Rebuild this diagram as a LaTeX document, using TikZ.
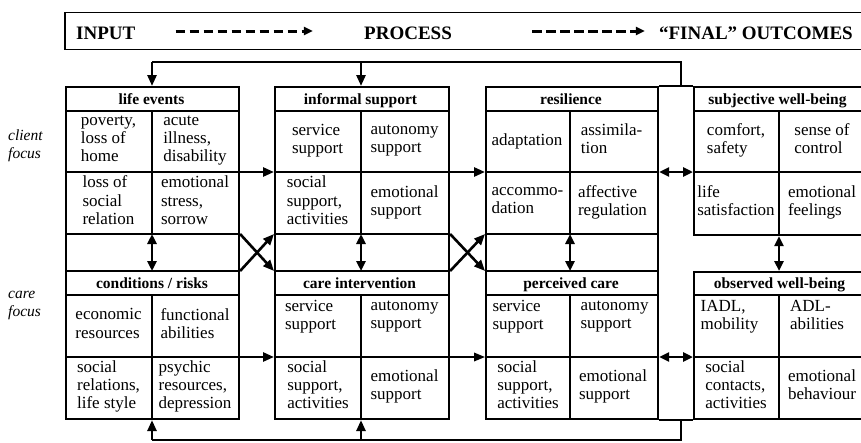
\documentclass[tikz,border=0pt]{standalone}
\usepackage{fontspec}
\setmainfont{Liberation Serif}
\usetikzlibrary{arrows.meta}
\begin{document}
\begin{tikzpicture}[x=1pt,y=-1pt,
  framebox/.style={draw,line width=2.1pt,inner sep=0pt,anchor=north west},
  gridline/.style={line width=1.3pt},
  fbline/.style={line width=2.5pt},
  flow/.style={line width=2.6pt,-{Triangle[length=11pt,width=9pt]}},
  thinflow/.style={line width=1.8pt,-{Triangle[length=11pt,width=8.5pt]}},
  both/.style={line width=2.6pt,{Triangle[length=10pt,width=9pt]}-{Triangle[length=10pt,width=9pt]}},
  legendflow/.style={line width=3pt,dash pattern=on 9.5pt off 4.5pt,-{Triangle[length=9pt,width=8pt]}},
  cell/.style={align=left,inner sep=0pt,font=\fontsize{17}{18.3}\selectfont,
    execute at begin node=\strut,execute at end node=\strut},
  title/.style={inner sep=0pt,anchor=base,font=\fontsize{15.5}{18}\selectfont\bfseries},
  side/.style={align=left,inner sep=0pt,anchor=west,font=\fontsize{15.5}{18}\selectfont\itshape,
    execute at begin node=\strut,execute at end node=\strut},
  head/.style={inner sep=0pt,font=\fontsize{19}{22}\selectfont\bfseries}
]
\useasboundingbox (0,0) rectangle (861,442);
\clip (0,0) rectangle (861,442);

% ---- legend bar ----
\draw[line width=1.2pt] (65,12.3) rectangle (868,49.3);
\node[head,anchor=base west] (in) at (76,39) {INPUT};
\node[head,anchor=base] (pr) at (408,39) {PROCESS};
\node[head,anchor=base east] (fo) at (853,39) {“FINAL” OUTCOMES};
\coordinate (legY) at (0,31);
\draw[legendflow] ([xshift=40pt]in.east |- legY) -- ([xshift=-51pt]pr.west |- legY);
\draw[legendflow] ([xshift=80pt]pr.east |- legY) -- ([xshift=-14pt]fo.west |- legY);

% ---- helper coordinates ----
\coordinate (m1) at (152,0);
\coordinate (m2) at (361,0);
\coordinate (m3) at (570,0);
\coordinate (m4) at (779,0);
\coordinate (rowA) at (0,172);
\coordinate (rowB) at (0,357);
\coordinate (gapT) at (0,234);
\coordinate (gapB) at (0,271);
\coordinate (topY) at (0,62);
\coordinate (botY) at (0,440);
\coordinate (fbX) at (681,0);

% ---- inner grid of the three tall columns ----
\foreach \l/\m/\r in {65/152/238, 274/361/448, 485/570/657} {
  \draw[gridline] (\l,111)--(\r,111) (\l,172)--(\r,172) (\l,234)--(\r,234)
                  (\l,271)--(\r,271) (\l,295)--(\r,295) (\l,357)--(\r,357);
  \draw[gridline] (\m,111)--(\m,234) (\m,295)--(\m,418);
}
% ---- inner grid of the well-being boxes ----
\draw[gridline] (693,111)--(868,111) (693,172)--(868,172) (779,111)--(779,234);
\draw[gridline] (693,295)--(868,295) (693,357)--(868,357) (779,295)--(779,418);

% ---- frames ----
\node[framebox,minimum width=173pt,minimum height=332pt] (col1) at (65,86) {};
\node[framebox,minimum width=174pt,minimum height=332pt] (col2) at (274,86) {};
\node[framebox,minimum width=172pt,minimum height=332pt] (col3) at (485,86) {};
\node[framebox,minimum width=175pt,minimum height=148pt] (swb) at (693,86) {};
\node[framebox,minimum width=175pt,minimum height=147pt] (owb) at (693,271) {};
\draw[line width=2.1pt] (col3.north east) -- (swb.north west)
                        (col3.south east) -- (owb.south west);

% ---- titles ----
\node[title] (t1) at (151.5,104) {life events};
\node[title] (t2) at (360.5,104) {informal support};
\node[title] (t3) at (571,104) {resilience};
\node[title] (t4) at (777.5,104) {subjective well-being};
\node[title] (t5) at (152,288.5) {conditions / risks};
\node[title] (t6) at (359.5,288.5) {care intervention};
\node[title] (t7) at (571,288.5) {perceived care};
\node[title] (t8) at (779.5,288.5) {observed well-being};

% ---- cells: life events / conditions ----
\node[cell] (a11) at (108.5,141.5) {poverty,\\loss of\\home};
\node[cell] (a12) at (195,141.5) {acute\\illness,\\disability};
\node[cell] (a21) at (108.5,203) {loss of\\social\\relation};
\node[cell] (a22) at (195,203) {emotional\\stress,\\sorrow};
\node[cell] (a31) at (108.5,326) {economic\\resources};
\node[cell] (a32) at (195,326) {functional\\abilities};
\node[cell] (a41) at (108.5,387.5) {social\\relations,\\life style};
\node[cell] (a42) at (195,387.5) {psychic\\resources,\\depression};

% ---- cells: informal support / care intervention ----
\node[cell] (b11) at (317.5,141.5) {service\\support};
\node[cell] (b12) at (404.5,141.5) {autonomy\\support};
\node[cell] (b21) at (317.5,203) {social\\support,\\activities};
\node[cell] (b22) at (404.5,203) {emotional\\support};
\node[cell] (b31) at (310.5,317.5) {service\\support};
\node[cell] (b32) at (404.5,317.5) {autonomy\\support};
\node[cell] (b41) at (318,387.5) {social\\support,\\activities};
\node[cell] (b42) at (404.5,387.5) {emotional\\support};

% ---- cells: resilience / perceived care ----
\node[cell] (c11) at (527,141.5) {adaptation};
\node[cell] (c12) at (611.5,141.5) {assimila-\\tion};
\node[cell] (c21) at (527.5,203) {accommo-\\dation};
\node[cell] (c22) at (612.5,203) {affective\\regulation};
\node[cell] (c31) at (518,317.5) {service\\support};
\node[cell] (c32) at (614.5,317.5) {autonomy\\support};
\node[cell] (c41) at (528,387.5) {social\\support,\\activities};
\node[cell] (c42) at (613,387.5) {emotional\\support};

% ---- cells: subjective / observed well-being ----
\node[cell] (d11) at (736,141.5) {comfort,\\safety};
\node[cell] (d12) at (822,141.5) {sense of\\control};
\node[cell] (d21) at (736,203) {life\\satisfaction};
\node[cell] (d22) at (822,203) {emotional\\feelings};
\node[cell] (d31) at (729.5,317.5) {IADL,\\mobility};
\node[cell] (d32) at (817,317.5) {ADL-\\abilities};
\node[cell] (d41) at (736,387.5) {social\\contacts,\\activities};
\node[cell] (d42) at (822,387.5) {emotional\\behaviour};

% ---- side labels ----
\node[side] (cf) at (8,147) {client\\focus};
\node[side] (kf) at (8,307) {care\\focus};

% ---- horizontal flows ----
\draw[flow] (col1.east |- rowA) -- (col2.west |- rowA);
\draw[flow] (col2.east |- rowA) -- (col3.west |- rowA);
\draw[both] (col3.east |- rowA) -- (swb.west |- rowA);
\draw[flow] (col1.east |- rowB) -- (col2.west |- rowB);
\draw[thinflow] (col2.east |- rowB) -- (col3.west |- rowB);
\draw[both] (col3.east |- rowB) -- (owb.west |- rowB);

% ---- crossing flows ----
\draw[flow] (col1.east |- gapT) -- (col2.west |- gapB);
\draw[flow] (col1.east |- gapB) -- (col2.west |- gapT);
\draw[flow] (col2.east |- gapT) -- (col3.west |- gapB);
\draw[flow] (col2.east |- gapB) -- (col3.west |- gapT);

% ---- vertical exchanges ----
\draw[both] (m1 |- gapT) -- (m1 |- gapB);
\draw[both] (m2 |- gapT) -- (m2 |- gapB);
\draw[both] (m3 |- gapT) -- (m3 |- gapB);
\draw[both] (swb.south -| m4) -- (owb.north -| m4);

% ---- feedback loops ----
\draw[fbline] (fbX |- swb.north) -- (fbX |- topY) -- (m1 |- topY);
\draw[flow] (m1 |- topY) -- (m1 |- col1.north);
\draw[flow] (m2 |- topY) -- (m2 |- col2.north);
\draw[fbline] (fbX |- owb.south) -- (fbX |- botY) -- (m1 |- botY);
\draw[flow] (m1 |- botY) -- (m1 |- col1.south);
\draw[flow] (m2 |- botY) -- (m2 |- col2.south);
\end{tikzpicture}
\end{document}
